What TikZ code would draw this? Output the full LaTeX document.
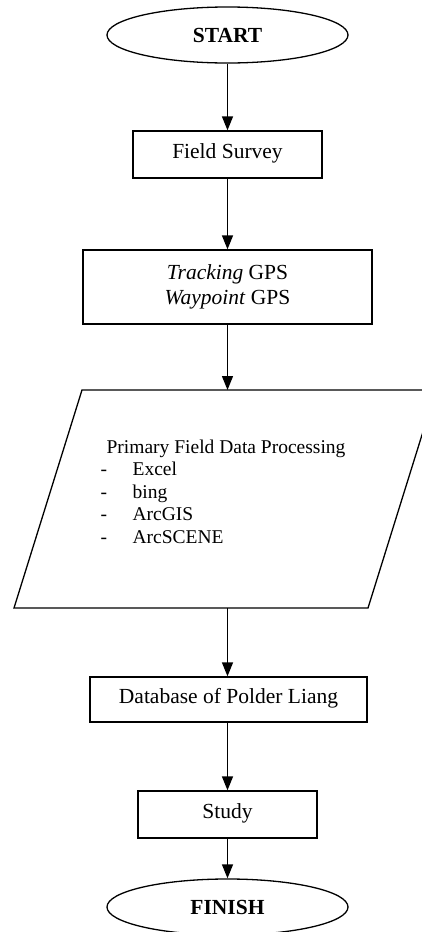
\documentclass[tikz,border=0pt]{standalone}
\usepackage{fontspec}
\setmainfont{Liberation Serif}
\usetikzlibrary{arrows.meta,shapes.geometric}

\begin{document}
\begin{tikzpicture}[x=1pt,y=-1pt, line width=1.3pt,
  term/.style={ellipse, draw, minimum width=241pt,
    minimum height=56pt, inner sep=0pt,
    font=\fontsize{21.5}{25}\selectfont\bfseries},
  procbox/.style={draw, rectangle, inner sep=0pt,
    text height=0.75em, text depth=0.05em,
    font=\fontsize{21.5}{25.5}\selectfont},
  flow/.style={-{Triangle[length=14pt,width=11pt]}}]
  \useasboundingbox (0,0) rectangle (422,932);
  \clip (0,0) rectangle (422,932);

  % terminals and process boxes
  \node[term] (start) at (227.5,35) {START};
  \node[procbox, minimum width=189pt, minimum height=47pt] (survey)
    at (227.5,154.5) {Field Survey};
  \node[procbox, minimum width=289pt, minimum height=74pt, align=center,
    text height=, text depth=] (gps)
    at (227.5,287) {\textit{Tracking} GPS\\\textit{Waypoint} GPS};

  % data processing parallelogram
  \draw (82,390) -- (436,390) -- (368,608) -- (14,608) -- cycle;
  \coordinate (ptop) at (227.5,390);
  \coordinate (pbot) at (227.5,608);
  \node[anchor=base west, inner sep=0pt,
    font=\fontsize{19.5}{22.5}\selectfont] (proc) at (100,453)
    {\begin{tabular}[t]{@{}p{32pt}@{}l@{}}
      \multicolumn{2}{@{}l@{}}{\hspace*{6pt}Primary Field Data Processing}\\
      - & Excel\\
      - & bing\\
      - & ArcGIS\\
      - & ArcSCENE
    \end{tabular}};

  \node[procbox, minimum width=277pt, minimum height=45pt] (db)
    at (228.5,699.5) {Database of Polder Liang};
  \node[procbox, minimum width=179pt, minimum height=47pt] (study)
    at (227.5,814.5) {Study};
  \node[term] (finish) at (227.5,907) {FINISH};

  % connectors
  \draw[flow] (start) -- (survey);
  \draw[flow] (survey) -- (gps);
  \draw[flow] (gps) -- (ptop);
  \draw[flow] (pbot) -- (pbot |- db.north);
  \draw[flow] (pbot |- db.south) -- (study);
  \draw[flow] (study) -- (finish);
\end{tikzpicture}
\end{document}
